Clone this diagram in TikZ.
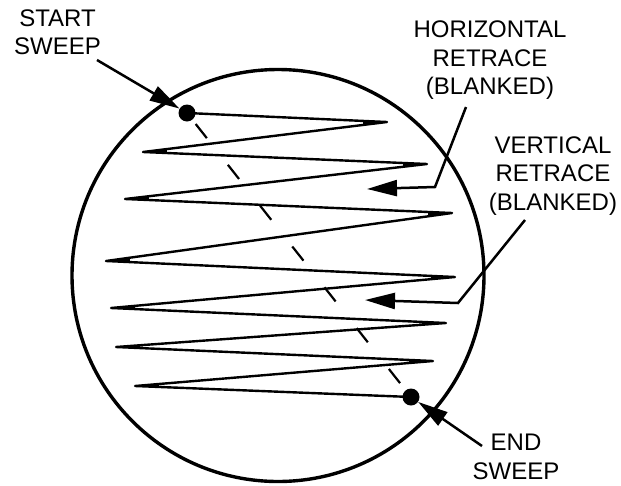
\documentclass[tikz,border=0pt]{standalone}
\usepackage{fontspec}
\setmainfont{Liberation Sans}
\usetikzlibrary{arrows.meta,calc}
\begin{document}
\begin{tikzpicture}[x=1pt,y=-1pt,
  screen/.style={circle,draw,line width=3.4pt,inner sep=0pt,minimum size=412pt},
  dot/.style={circle,fill,inner sep=0pt,minimum size=17pt},
  trace/.style={line width=2.4pt,line join=round,line cap=round},
  blank/.style={line width=2.2pt,dash pattern=on 18pt off 34pt,dash phase=38pt},
  pointer/.style={line width=2.5pt,-{Triangle[length=30pt,width=16pt]}},
  lbl/.style={align=center,inner sep=0pt,font=\fontsize{24}{28.5}\selectfont}]
\useasboundingbox (0,0) rectangle (621,485);
\node[screen] (tube) at (278,275.5) {};
\node[dot] (S) at (187,113) {};
\node[dot] (E) at (411,397) {};
\coordinate (r1) at (387,122);
\coordinate (l1) at (143,152);
\coordinate (r2) at (427,164);
\coordinate (l2) at (125,199);
\coordinate (r3) at (452,213);
\coordinate (l3) at (106,261);
\coordinate (r4) at (455,277);
\coordinate (l4) at (111,308);
\coordinate (r5) at (446,323);
\coordinate (l5) at (116,347);
\coordinate (r6) at (433,361);
\coordinate (l6) at (135,386);
\draw[trace] (S.center) -- (r1) -- (l1) -- (r2) -- (l2) -- (r3) -- (l3)
  -- (r4) -- (l4) -- (r5) -- (l5) -- (r6) -- (l6) -- (E.center);
\foreach \p/\v/\n in {S.center/r1/l1, r1/l1/r2, l1/r2/l2, r2/l2/r3, l2/r3/l3,
  r3/l3/r4, l3/r4/l4, r4/l4/r5, l4/r5/l5, r5/l5/r6, l5/r6/l6, r6/l6/E.center}
  \fill[line join=round] (\v) -- ($(\v)!24pt!(\p)$) -- ($(\v)!24pt!(\n)$) -- cycle;
\draw[blank] (S.center) -- (E.center);
\coordinate (sstail) at (97,60);
\coordinate (estail) at (482,446);
\coordinate (htail) at (466,107);
\coordinate (hbend) at (435,187);
\coordinate (htip) at (367,189);
\coordinate (vtail) at (525,220);
\coordinate (vbend) at (458,303);
\coordinate (vtip) at (365,300);
\draw[pointer] (sstail) -- (S);
\draw[pointer] (estail) -- (E);
\draw[pointer] (htail) -- (hbend) -- (htip);
\draw[pointer] (vtail) -- (vbend) -- (vtip);
\node[lbl] (startlbl) at (57.5,32) {START\\SWEEP};
\node[lbl] (hlbl) at (490,60.5) {HORIZONTAL\\RETRACE\\(BLANKED)};
\node[lbl] (vlbl) at (553,176) {VERTICAL\\RETRACE\\(BLANKED)};
\node[lbl] (elbl) at (516,457) {END\\SWEEP};
\end{tikzpicture}
\end{document}
